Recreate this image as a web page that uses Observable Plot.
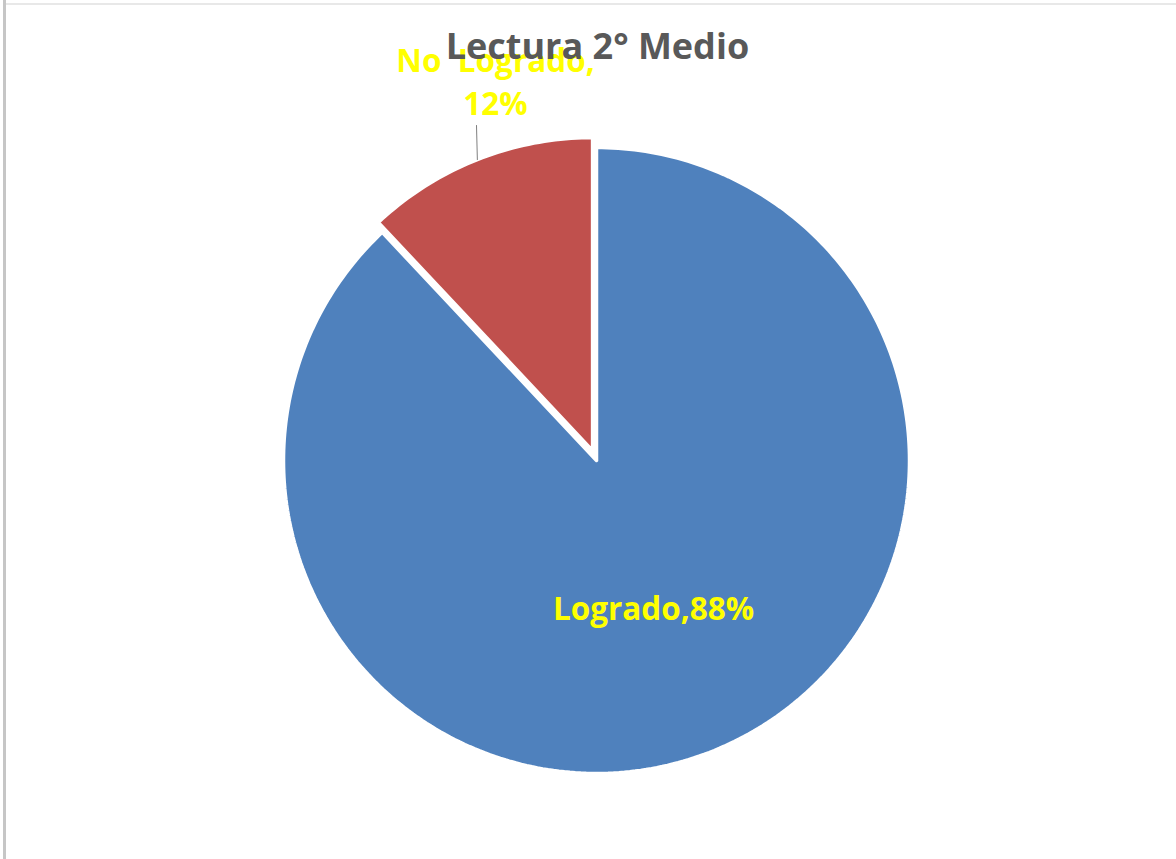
<!DOCTYPE html>
<html>
<head>
<meta charset="utf-8">
<script src="https://cdn.jsdelivr.net/npm/d3@7"></script>
<script src="https://cdn.jsdelivr.net/npm/@observablehq/plot@0.6"></script>
<style>
  html, body { margin: 0; padding: 0; background: #fff; }
  #frame { position: relative; width: 1176px; height: 859px; overflow: hidden; }
  #frame::before { content: ""; position: absolute; left: 3px; top: 0; width: 3px; height: 859px; background: #c6c6c6; }
  #frame::after { content: ""; position: absolute; left: 6px; top: 3px; right: 0; height: 2px; background: #e8e8e8; }
  svg { display: block; }
</style>
</head>
<body>
<div id="frame"></div>
<script>
// ---- data ----
const title = "Lectura 2° Medio";
const categories = ["Logrado", "No Logrado"];
const values = [88, 12];
const colors = ["#4F81BD", "#C0504D"];
const labels = ["Logrado,88%", "No  Logrado,\n12%"];
const exploded = [false, true];

// ---- layout ----
const W = 1176, H = 859;
const cxPx = 596, cyPx = 460, Rpx = 313;   // pie centre / radius in pixels
const explode = 0.034;                      // offset of the exploded slice (radius units)

const pie = d3.pie().sort(null).value(d => d.value).startAngle(0).endAngle(2 * Math.PI);
const arcs = pie(categories.map((c, i) => ({category: c, value: values[i], i})));

// polygon outline of each slice, in unit-radius coordinates (y up)
const slicePts = [];
const sliceInfo = [];
arcs.forEach(a => {
  const i = a.data.i;
  const mid = (a.startAngle + a.endAngle) / 2;
  const off = exploded[i] ? explode : 0;
  const ox = off * Math.sin(mid), oy = off * Math.cos(mid);
  sliceInfo.push({i, mid, ox, oy});
  const n = Math.max(8, Math.ceil((a.endAngle - a.startAngle) / (Math.PI / 180)));
  slicePts.push({category: a.data.category, x: ox, y: oy});
  for (let k = 0; k <= n; k++) {
    const t = a.startAngle + (a.endAngle - a.startAngle) * k / n;
    slicePts.push({category: a.data.category, x: ox + Math.sin(t), y: oy + Math.cos(t)});
  }
  slicePts.push({category: a.data.category, x: ox, y: oy});
});

// label positions (unit coords)
const labelPos = [
  {text: labels[0], x: (653 - cxPx) / Rpx, y: (cyPx - 606) / Rpx},
  {text: labels[1], x: (495 - cxPx) / Rpx, y: (cyPx - 79) / Rpx}
];
// leader line from the "No Logrado" label to its slice mid-arc
const s1 = sliceInfo.find(s => s.i === 1);
const leader = [
  {x: (476 - cxPx) / Rpx, y: (cyPx - 125) / Rpx},
  {x: s1.ox + Math.sin(s1.mid), y: s1.oy + Math.cos(s1.mid)}
];

const chart = Plot.plot({
  width: W,
  height: H,
  margin: 0,
  x: {domain: [-cxPx / Rpx, (W - cxPx) / Rpx], axis: null},
  y: {domain: [-(H - cyPx) / Rpx, cyPx / Rpx], axis: null},
  color: {domain: categories, range: colors},
  style: {background: "transparent"},
  marks: [
    Plot.line(slicePts, {
      x: "x", y: "y", z: "category",
      fill: "category", stroke: "white", strokeWidth: 3.5, strokeLinejoin: "miter"
    }),
    Plot.line(leader, {x: "x", y: "y", stroke: "#7f7f7f", strokeWidth: 1}),
    Plot.text(labelPos, {
      x: "x", y: "y", text: "text",
      fill: "#FFFF00", fontSize: 31.5, fontWeight: "bold", fontFamily: "Open Sans",
      lineHeight: 1.38, textAnchor: "middle"
    }),
    Plot.text([title], {
      x: 0.003, y: (cyPx - 47) / Rpx, text: d => d,
      fill: "#595959", fontSize: 36, fontWeight: "bold", fontFamily: "Open Sans", textAnchor: "middle"
    })
  ]
});
document.getElementById("frame").appendChild(chart);
</script>
</body>
</html>
